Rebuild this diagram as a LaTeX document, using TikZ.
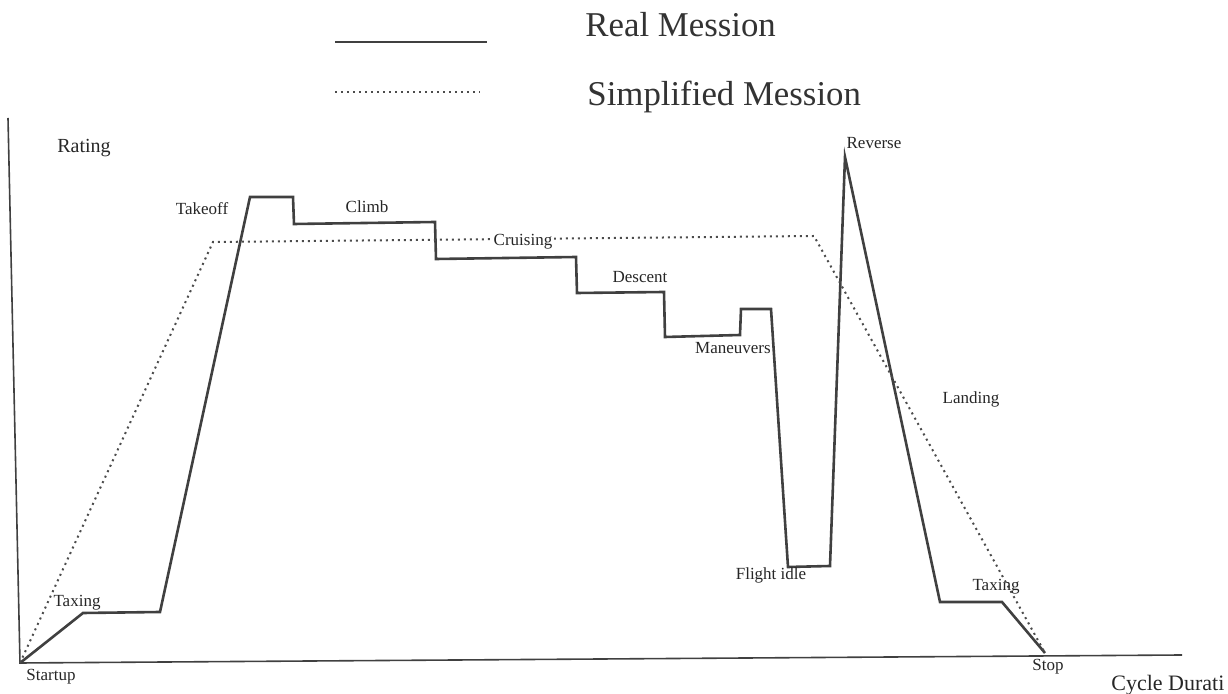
\documentclass[tikz,border=0pt]{standalone}
\usepackage{fontspec}
\setmainfont{Liberation Serif}
\usetikzlibrary{calc}

\begin{document}
\begin{tikzpicture}[x=0.5pt,y=-0.5pt,
axis/.style={line width=0.8pt,draw=black!75},
real/.style={line width=1.3pt,draw=black!75,line join=miter},
simp/.style={line width=1pt,draw=black!70,dotted},
lbl/.style={font=\fontsize{8.5}{10}\selectfont,text=black!85,inner sep=1pt},
leg/.style={font=\fontsize{17.4}{20}\selectfont,text=black!80,anchor=west,inner sep=0pt},
]
\useasboundingbox (0,0) rectangle (1228,694);

% axes
\coordinate (top) at (8,118);
\coordinate (o) at (20,663);
\coordinate (xend) at (1182,655);
\draw[axis] (top) -- (o) -- (xend);

% legend
\coordinate (l1a) at (335,42);
\coordinate (l1b) at (487,42);
\coordinate (l2a) at (335,92);
\coordinate (l2b) at (480,92);
\draw[real] (l1a) -- (l1b);
\draw[simp] (l2a) -- (l2b);
\node[leg] (realtxt) at (585,25) {Real Mession};
\node[leg] (simptxt) at (587,97) {Simplified Mession};

% real mission
\coordinate (taxi) at (83,613);
\coordinate (taxe) at (160,612);
\coordinate (tko) at (250,197);
\coordinate (tke) at (293,197);
\coordinate (clb) at (294,224);
\coordinate (clbe) at (435,222);
\coordinate (crs) at (436,259);
\coordinate (crse) at (576,257);
\coordinate (dsc) at (577,293);
\coordinate (dsce) at (664,292);
\coordinate (man) at (665,337);
\coordinate (mane) at (740,335);
\coordinate (manu) at (741,309);
\coordinate (manue) at (771,309);
\coordinate (idl) at (788,567);
\coordinate (idle) at (830,566);
\coordinate (rev) at (845,157);
\coordinate (lnd) at (940,602);
\coordinate (lnde) at (1002,602);
\coordinate (stop) at (1045,653);
\draw[real] (o) -- (taxi) -- (taxe) -- (tko) -- (tke) -- (clb) -- (clbe)
  -- (crs) -- (crse) -- (dsc) -- (dsce) -- (man) -- (mane) -- (manu)
  -- (manue) -- (idl) -- (idle) -- (rev) -- (lnd) -- (lnde) -- (stop);

% simplified mission
\coordinate (s1) at (213,242);
\coordinate (s2) at (814,236);
\draw[simp] (o) -- (s1) -- (s2) -- (stop);

% labels
\node[lbl,font=\fontsize{10}{12}\selectfont] (rating) at (84,148) {Rating};
\node[lbl] (takeoff) at (202,209) {Takeoff};
\node[lbl] (climb) at (367,207) {Climb};
\node[lbl,fill=white] (cruising) at (523,242) {Cruising};
\node[lbl] (descent) at (640,277) {Descent};
\node[lbl] (maneuvers) at (733,348) {Maneuvers};
\node[lbl] (reverse) at (874,143) {Reverse};
\node[lbl] (landing) at (971,399) {Landing};
\node[lbl] (flightidle) at (771,575) {Flight idle};
\node[lbl] (taxing2) at (996,587) {Taxing};
\node[lbl] (taxing1) at (77,603) {Taxing};
\node[lbl] (startup) at (51,677) {Startup};
\node[lbl] (stoptxt) at (1048,667) {Stop};
\node[lbl,font=\fontsize{11}{13}\selectfont,anchor=west] (cycle) at (1109,685) {Cycle Durati};
\end{tikzpicture}
\end{document}
